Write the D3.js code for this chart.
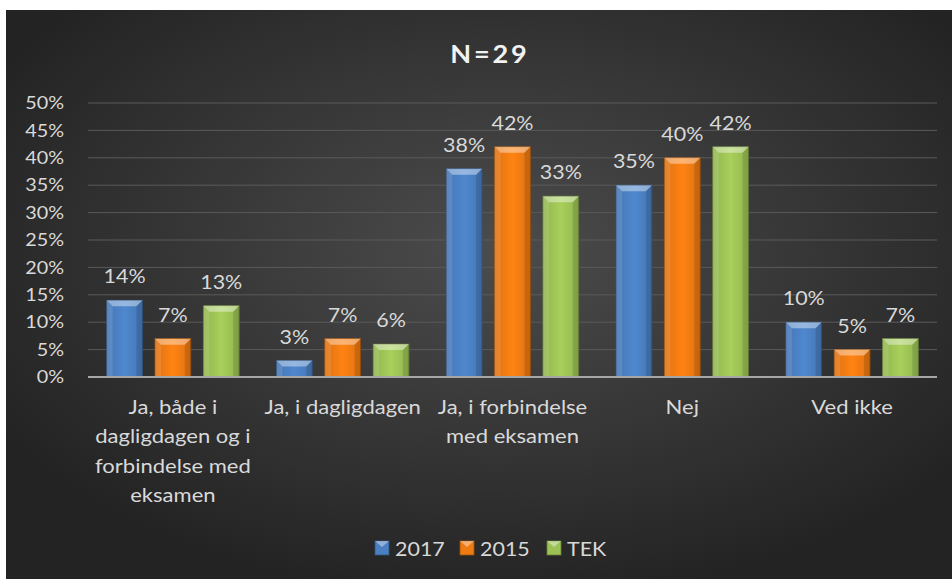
<!DOCTYPE html>
<html>
<head>
<meta charset="utf-8">
<script src="https://cdn.jsdelivr.net/npm/d3@7"></script>
<style>
  body { margin: 0; background: #fff; }
  svg { display: block; font-family: "Lato", "Open Sans", sans-serif; }
</style>
</head>
<body>
<div id="chart-area"></div>
<script>
const categories = [
    ["Ja, både i", "dagligdagen og i", "forbindelse med", "eksamen"],
    ["Ja, i dagligdagen"],
    ["Ja, i forbindelse", "med eksamen"],
    ["Nej"],
    ["Ved ikke"],
];
const seriesNames = ["2017", "2015", "TEK"];
const values2017 = [14, 3, 38, 35, 10];
const values2015 = [7, 7, 42, 40, 5];
const valuesTEK = [13, 6, 33, 42, 7];
const yTicks = [0, 5, 10, 15, 20, 25, 30, 35, 40, 45, 50];
const colors = ["#4a7fc1", "#ee7a12", "#9cc255"];

const chartSize = { width: 952, height: 579 };
const plot = { left: 88, right: 937, top: 103, bottom: 377 };
const textColor = "#d9d9d9";
const sx = 1.13; // the source picture is stretched sideways

// put text at (x,y) with a horizontal stretch
const place = function (sel, x, y) {
    sel.attr("transform", function (d, i) {
        const px = typeof x === "function" ? x.call(this, d, i) : x;
        const py = typeof y === "function" ? y.call(this, d, i) : y;
        return `translate(${px},${py}) scale(${sx},1)`;
    });
};

const svg = d3.select("#chart-area").append("svg")
    .attr("width", chartSize.width)
    .attr("height", chartSize.height);

const defs = svg.append("defs");
const bg = defs.append("radialGradient").attr("id", "bg")
    .attr("cx", "52%").attr("cy", "42%").attr("r", "62%");
bg.append("stop").attr("offset", "0%").attr("stop-color", "#4c4c4c");
bg.append("stop").attr("offset", "100%").attr("stop-color", "#232323");

colors.forEach((c, i) => {
    const g = defs.append("linearGradient").attr("id", "bar" + i)
        .attr("x1", 0).attr("x2", 1).attr("y1", 0).attr("y2", 0);
    g.append("stop").attr("offset", "0%").attr("stop-color", d3.color(c).darker(0.2));
    g.append("stop").attr("offset", "50%").attr("stop-color", d3.color(c).brighter(0.2));
    g.append("stop").attr("offset", "100%").attr("stop-color", d3.color(c).darker(0.2));
});

svg.append("rect")
    .attr("x", 6).attr("y", 10)
    .attr("width", chartSize.width - 6).attr("height", chartSize.height - 10)
    .attr("fill", "url(#bg)");

svg.append("text")
    .text("N=29")
    .attr("text-anchor", "middle")
    .attr("fill", "#f2f2f2")
    .attr("font-size", 24)
    .attr("font-weight", "bold")
    .attr("letter-spacing", 2.5)
    .call(place, 490, 63);

const y = d3.scaleLinear().domain([0, 50]).range([plot.bottom, plot.top]);
const x0 = d3.scaleBand().domain(d3.range(categories.length))
    .range([plot.left, plot.right]).paddingInner(0.22).paddingOuter(0.11);
const x1 = d3.scaleBand().domain(seriesNames)
    .range([0, x0.bandwidth()]).paddingInner(0.26);

// grid
svg.append("g").selectAll("line")
    .data(yTicks.slice(1))
    .join("line")
    .attr("x1", plot.left).attr("x2", plot.right)
    .attr("y1", d => y(d)).attr("y2", d => y(d))
    .attr("stroke", "#5a5a5a").attr("stroke-width", 1);

// y labels
svg.append("g").selectAll("text")
    .data(yTicks).join("text")
    .text(d => d + "%")
    .attr("text-anchor", "end")
    .attr("dy", "0.35em")
    .attr("fill", textColor)
    .attr("font-size", 17.5)
    .call(place, plot.left - 24, d => y(d));

const series = [values2017, values2015, valuesTEK];
const rows = categories.map((c, i) => seriesNames.map((s, k) => ({ cat: i, s, k, v: series[k][i] })));

const groups = svg.append("g").selectAll("g")
    .data(rows).join("g")
    .attr("transform", (d, i) => `translate(${x0(i)},0)`);

const bars = groups.selectAll("g").data(d => d).join("g");
const bw = x1.bandwidth();
const bev = 6;

bars.append("rect")
    .attr("x", d => x1(d.s))
    .attr("y", d => y(d.v))
    .attr("width", bw)
    .attr("height", d => y(0) - y(d.v))
    .attr("fill", d => `url(#bar${d.k})`)
    .attr("stroke", d => d3.color(colors[d.k]).darker(1.2))
    .attr("stroke-width", 0.8);

// bevel: light top, light left, dark right
const bevel = function (side) {
    return d => {
        const l = x1(d.s), r = l + bw, t = y(d.v), b = y(0);
        const e = Math.min(bev, (b - t) / 2);
        if (side === "top") return `M${l},${t}L${r},${t}L${r - e},${t + e}L${l + e},${t + e}Z`;
        if (side === "left") return `M${l},${t}L${l + e},${t + e}L${l + e},${b}L${l},${b}Z`;
        return `M${r},${t}L${r - e},${t + e}L${r - e},${b}L${r},${b}Z`;
    };
};
bars.append("path").attr("d", bevel("top")).attr("fill", "#fff").attr("opacity", 0.4);
bars.append("path").attr("d", bevel("left")).attr("fill", "#fff").attr("opacity", 0.12);
bars.append("path").attr("d", bevel("right")).attr("fill", "#000").attr("opacity", 0.12);

bars.append("text")
    .text(d => d.v + "%")
    .attr("text-anchor", "middle")
    .attr("fill", textColor)
    .attr("font-size", 19)
    .call(place, d => x1(d.s) + bw / 2, d => y(d.v) - 17);

// baseline
svg.append("line")
    .attr("x1", plot.left).attr("x2", plot.right)
    .attr("y1", y(0)).attr("y2", y(0))
    .attr("stroke", "#a6a6a6").attr("stroke-width", 2);

// category labels
const cl = svg.append("g").selectAll("text")
    .data(categories).join("text")
    .attr("text-anchor", "middle")
    .attr("fill", textColor)
    .attr("font-size", 19.5)
    .call(place, (d, i) => x0(i) + x0.bandwidth() / 2, 414);
cl.selectAll("tspan").data(d => d)
    .join("tspan")
    .attr("x", 0)
    .attr("y", (d, j) => j * 29.3)
    .text(d => d);

// legend
const legend = svg.append("g");
const legX = [375, 460, 547];
seriesNames.forEach((s, k) => {
    const g = legend.append("g").attr("transform", `translate(${legX[k]},541)`);
    g.append("rect").attr("width", 14).attr("height", 14)
        .attr("fill", colors[k]).attr("stroke", d3.color(colors[k]).darker(1.2)).attr("stroke-width", 0.8);
    g.append("path").attr("d", "M0,0L14,0L7,6Z").attr("fill", "#fff").attr("opacity", 0.4);
    g.append("text").text(s)
        .attr("fill", textColor).attr("font-size", 19)
        .call(place, 20, 14.5);
});
</script>
</body>
</html>
